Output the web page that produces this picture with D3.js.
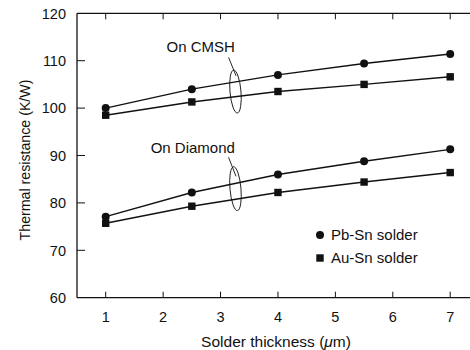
<!DOCTYPE html>
<html><head><meta charset="utf-8">
<script src="https://cdn.jsdelivr.net/npm/d3@7"></script>
<style>
html,body{margin:0;padding:0;background:#fff;}
svg{display:block;}
text{font-family:"Liberation Sans",Arial,Helvetica,sans-serif;fill:#111;}
</style></head>
<body>
<script>
const thickness = [1, 2.5, 4, 5.5, 7];
const cmshPbSn = [100.0, 104.0, 107.0, 109.4, 111.4];
const cmshAuSn = [98.5, 101.3, 103.5, 105.0, 106.6];
const diamondPbSn = [77.1, 82.2, 86.0, 88.8, 91.3];
const diamondAuSn = [75.7, 79.3, 82.2, 84.4, 86.4];
const xTicks = [1, 2, 3, 4, 5, 6, 7];
const yTicks = [60, 70, 80, 90, 100, 110, 120];
const groupLabels = ["On CMSH", "On Diamond"];
const legendLabels = ["Pb-Sn solder", "Au-Sn solder"];

const W = 470, H = 350;
const svg = d3.select("body").append("svg").attr("width", W).attr("height", H);

const x = d3.scaleLinear().domain([0.5, 7.78]).range([77, 495]);
const y = d3.scaleLinear().domain([60, 120]).range([297.7, 13.3]);

const g = svg.append("g");
const ink = "#111";
g.append("line").attr("x1", 77).attr("x2", 470).attr("y1", y(60)).attr("y2", y(60)).attr("stroke", ink).attr("stroke-width", 1.3);
g.append("line").attr("x1", 77).attr("x2", 470).attr("y1", y(120)).attr("y2", y(120)).attr("stroke", ink).attr("stroke-width", 1.3);
g.append("line").attr("x1", 77).attr("x2", 77).attr("y1", y(60)).attr("y2", y(120)).attr("stroke", ink).attr("stroke-width", 1.3);

xTicks.forEach(t => {
  g.append("line").attr("x1", x(t)).attr("x2", x(t)).attr("y1", y(60)).attr("y2", y(60) - 6).attr("stroke", ink).attr("stroke-width", 1);
  g.append("line").attr("x1", x(t)).attr("x2", x(t)).attr("y1", y(120)).attr("y2", y(120) + 6).attr("stroke", ink).attr("stroke-width", 1);
  g.append("text").attr("x", x(t)).attr("y", 322).attr("text-anchor", "middle").attr("font-size", 14.5).text(t);
});
yTicks.forEach(t => {
  if (t !== 60 && t !== 120) g.append("line").attr("x1", 77).attr("x2", 85).attr("y1", y(t)).attr("y2", y(t)).attr("stroke", ink).attr("stroke-width", 1);
  g.append("text").attr("x", 66).attr("y", y(t)).attr("dy", "0.37em").attr("text-anchor", "end").attr("font-size", 14.5).text(t);
});

g.append("text").attr("x", 276).attr("y", 347).attr("text-anchor", "middle").attr("font-size", 15.5)
  .html('Solder thickness (<tspan font-style="italic">μ</tspan>m)');
g.append("text").attr("transform", "translate(30,160) rotate(-90)").attr("text-anchor", "middle").attr("font-size", 14.2)
  .text("Thermal resistance (K/W)");

const line = d3.line().x(d => x(d[0])).y(d => y(d[1]));
const series = [
  {vals: cmshPbSn, shape: "circle"},
  {vals: cmshAuSn, shape: "square"},
  {vals: diamondPbSn, shape: "circle"},
  {vals: diamondAuSn, shape: "square"}
];
series.forEach(s => {
  const pts = thickness.map((t, i) => [t, s.vals[i]]);
  g.append("path").attr("d", line(pts)).attr("fill", "none").attr("stroke", ink).attr("stroke-width", 1.4);
  pts.forEach(p => {
    if (s.shape === "circle") g.append("circle").attr("cx", x(p[0])).attr("cy", y(p[1])).attr("r", 4).attr("fill", ink);
    else g.append("rect").attr("x", x(p[0]) - 3.7).attr("y", y(p[1]) - 3.7).attr("width", 7.4).attr("height", 7.4).attr("fill", ink);
  });
});

const annots = [
  {label: groupLabels[0], tx: 3.25, ty: 111.8, lx1: 3.14, ly1: 110.7, lx2: 3.27, ly2: 106.8, ex: 3.26, ey: 103.5, ry: 21.5},
  {label: groupLabels[1], tx: 3.25, ty: 90.5, lx1: 3.14, ly1: 89.6, lx2: 3.27, ly2: 85.6, ex: 3.26, ey: 83.0, ry: 22}
];
annots.forEach(a => {
  g.append("text").attr("x", x(a.tx)).attr("y", y(a.ty)).attr("text-anchor", "end").attr("font-size", 15).text(a.label);
  g.append("line").attr("x1", x(a.lx1)).attr("y1", y(a.ly1)).attr("x2", x(a.lx2)).attr("y2", y(a.ly2)).attr("stroke", ink).attr("stroke-width", 0.9);
  g.append("ellipse").attr("cx", x(a.ex)).attr("cy", y(a.ey)).attr("rx", 5.5).attr("ry", a.ry)
    .attr("fill", "none").attr("stroke", ink).attr("stroke-width", 0.9)
    .attr("transform", `rotate(-5,${x(a.ex)},${y(a.ey)})`);
});

const legY = [235, 258];
legY.forEach((ly, i) => {
  if (i === 0) g.append("circle").attr("cx", 320).attr("cy", ly).attr("r", 4).attr("fill", ink);
  else g.append("rect").attr("x", 316.3).attr("y", ly - 3.7).attr("width", 7.4).attr("height", 7.4).attr("fill", ink);
  g.append("text").attr("x", 331).attr("y", ly).attr("dy", "0.36em").attr("font-size", 15).text(legendLabels[i]);
});
</script>
</body></html>
